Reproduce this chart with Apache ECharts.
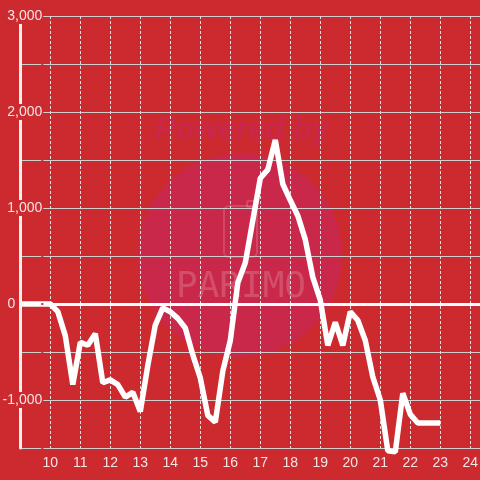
<!DOCTYPE html>
<html>
<head>
<meta charset="utf-8">
<script src="https://cdn.jsdelivr.net/npm/echarts@6/dist/echarts.min.js"></script>
<style>html,body{margin:0;padding:0;background:#cc2a2f;}#c{width:480px;height:480px;}</style>
</head>
<body>
<div id="c"></div>
<script>
var hours = [9, 9.25, 9.5, 9.75, 10, 10.25, 10.5, 10.75, 11, 11.25, 11.5, 11.75, 12, 12.25, 12.5, 12.75,
  13, 13.25, 13.5, 13.75, 14, 14.25, 14.5, 14.75, 15, 15.25, 15.5, 15.75, 16, 16.25, 16.5, 16.75,
  17, 17.25, 17.5, 17.75, 18, 18.25, 18.5, 18.75, 19, 19.25, 19.5, 19.75, 20, 20.25, 20.5, 20.75,
  21, 21.25, 21.5, 21.75, 22, 22.25, 22.5, 22.75, 23];
var values = [0, 0, 0, 0, 0, -80, -330, -840, -400, -430, -310, -820, -790, -840, -970, -920,
  -1120, -640, -220, -40, -80, -150, -250, -530, -770, -1160, -1230, -700, -380, 220, 430, 870,
  1310, 1400, 1710, 1250, 1080, 920, 670, 280, 40, -430, -190, -430, -80, -170, -380, -760,
  -1000, -1530, -1540, -930, -1150, -1240, -1240, -1240, -1240];
var xTicks = [10, 11, 12, 13, 14, 15, 16, 17, 18, 19, 20, 21, 22, 23, 24];
var yTickLabels = [-1000, 1000, 2000, 3000];

var bg = '#cc2a2f';
var txt = '#f3e4e4';
var chart = echarts.init(document.getElementById('c'));
var data = hours.map(function (h, i) { return [h, values[i]]; });

chart.setOption({
  backgroundColor: bg,
  animation: false,
  grid: { left: 20.3, width: 460, top: 16, bottom: 32, containLabel: false, outerBoundsMode: 'none' },
  graphic: [
    { type: 'circle', shape: { cx: 240, cy: 255, r: 102 }, style: { fill: '#c9284a' }, z: -10 },
    { type: 'text', x: 242, y: 130, style: { text: 'Powered by', font: 'italic bold 31px "Liberation Sans", Arial', fill: '#c9284a', textAlign: 'center', textVerticalAlign: 'middle' }, z: -10 },
    { type: 'rect', shape: { x: 224, y: 206, width: 33, height: 51, r: 5 }, style: { fill: 'none', stroke: 'rgba(255,255,255,0.15)', lineWidth: 2 }, z: -10 },
    { type: 'rect', shape: { x: 247, y: 201, width: 9, height: 6, r: 1 }, style: { fill: 'none', stroke: 'rgba(255,255,255,0.15)', lineWidth: 2 }, z: -10 },
    { type: 'text', x: 241, y: 288, style: { text: 'PARIMO', font: '36px "DejaVu Sans Mono", monospace', fill: 'rgba(255,255,255,0.18)', textAlign: 'center', textVerticalAlign: 'middle' }, z: -10 }
  ],
  xAxis: {
    type: 'value', min: 9, max: 24.3333, interval: 1,
    axisLine: { show: true, lineStyle: { color: '#f4f0f0', width: 2 } },
    axisTick: { show: false },
    axisLabel: {
      color: txt, fontSize: 14, fontFamily: '"Liberation Sans", Arial', margin: 8,
      formatter: function (v) { return xTicks.indexOf(v) >= 0 ? String(v) : ''; }
    },
    splitLine: { show: true, lineStyle: { color: '#e8dede', width: 1, type: [3, 2] } }
  },
  yAxis: [
    {
      type: 'value', min: -1500, max: 3000, interval: 500,
      axisLine: { show: false }, axisTick: { show: false }, axisLabel: { show: false },
      splitLine: { show: true, lineStyle: { color: '#cfcfcf', width: 1 } }
    },
    {
      type: 'value', min: -1500, max: 3000, interval: 500, position: 'left', z: 5,
      axisLine: { show: true, lineStyle: { color: '#f4f0f0', width: 3 } },
      axisTick: { show: false },
      splitLine: { show: false },
      axisLabel: {
        color: txt, fontSize: 14, fontFamily: '"Liberation Sans", Arial', margin: -23,
        backgroundColor: bg, padding: [1, 1],
        formatter: function (v) { return yTickLabels.indexOf(v) >= 0 ? v.toLocaleString('en-US') : ''; }
      }
    }
  ],
  series: [{
    type: 'line',
    data: data,
    yAxisIndex: 0,
    symbol: 'none',
    clip: false,
    lineStyle: { color: '#ffffff', width: 5.5 },
    z: 3,
    markLine: {
      silent: true,
      symbol: 'none',
      lineStyle: { color: '#ffffff', width: 3, type: 'solid' },
      label: { position: 'start', color: txt, fontSize: 14, fontFamily: '"Liberation Sans", Arial', formatter: '0' },
      data: [{ yAxis: 0 }]
    }
  }]
});
</script>
</body>
</html>
